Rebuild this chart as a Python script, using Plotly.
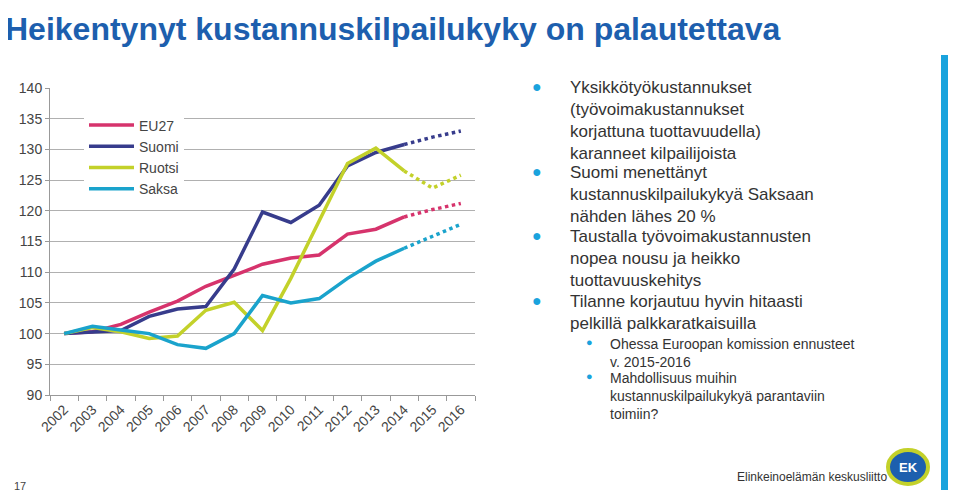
import plotly.graph_objects as go

years = [str(y) for y in range(2002, 2017)]
actual_n = 13  # 2002-2014 measured, 2015-2016 forecast

eu27 = [100, 100.3, 101.5, 103.5, 105.3, 107.7, 109.5, 111.3, 112.3, 112.8, 116.2, 117.0, 119.0, 120.2, 121.2]
suomi = [100, 100.3, 100.5, 102.8, 104.0, 104.4, 110.5, 119.8, 118.1, 120.9, 127.3, 129.5, 130.8, 132.0, 133.0]
ruotsi = [100, 101.0, 100.3, 99.2, 99.6, 103.8, 105.1, 100.5, 109.0, 118.5, 127.7, 130.2, 126.5, 123.7, 125.8]
saksa = [100, 101.2, 100.6, 100.0, 98.2, 97.6, 100.0, 106.2, 105.0, 105.7, 109.0, 111.8, 113.9, 115.9, 117.8]

series = [("EU27", eu27, "#d6336c"), ("Suomi", suomi, "#373c8c"),
          ("Ruotsi", ruotsi, "#c3d12a"), ("Saksa", saksa, "#1aa3cc")]

bullets = [
    "Yksikkötyökustannukset<br>(työvoimakustannukset<br>korjattuna tuottavuudella)<br>karanneet kilpailijoista",
    "Suomi menettänyt<br>kustannuskilpailukykyä Saksaan<br>nähden lähes 20 %",
    "Taustalla työvoimakustannusten<br>nopea nousu ja heikko<br>tuottavuuskehitys",
    "Tilanne korjautuu hyvin hitaasti<br>pelkillä palkkaratkaisuilla",
]
sub_bullets = ["Ohessa Euroopan komission ennusteet<br>v. 2015-2016",
               "Mahdollisuus muihin<br>kustannuskilpailukykyä parantaviin<br>toimiin?"]


def py(yp):
    # screen pixel -> paper y
    return 1 - (yp - 88) / 307


def px(xp):
    return (xp - 50) / 425


fig = go.Figure()
for name, vals, col in series:
    fig.add_trace(go.Scatter(x=years[:actual_n], y=vals[:actual_n], mode="lines", name=name,
                             line=dict(color=col, width=3.5)))
    fig.add_trace(go.Scatter(x=years[actual_n - 1:], y=vals[actual_n - 1:], mode="lines",
                             showlegend=False, line=dict(color=col, width=3.5, dash="dot")))

fig.update_layout(
    width=951, height=487, paper_bgcolor="white", plot_bgcolor="white",
    margin=dict(l=42, r=484, t=80, b=100),
    font=dict(family="Liberation Sans, Arial", color="#333333"),
    legend=dict(x=0.08, y=0.93, bgcolor="white", font=dict(size=14, color="#444"),
                tracegroupgap=0, itemwidth=45),
    xaxis=dict(type="category", range=[-0.5, 14.5], tickangle=-45, ticks="outside",
               tickson="boundaries", ticklen=5, tickcolor="#999", showline=True, linecolor="#999",
               showgrid=False, tickfont=dict(size=14, color="#444")),
    yaxis=dict(range=[90, 140], dtick=5, showgrid=True, gridcolor="#b0b0b0",
               showline=True, linecolor="#999", ticks="outside", ticklen=4, tickcolor="#999",
               tickfont=dict(size=14, color="#444"), zeroline=False),
)

fig.add_annotation(text="<b>Heikentynyt kustannuskilpailukyky on palautettava</b>",
                   xref="paper", yref="paper", x=px(3), y=py(9), xanchor="left", yanchor="top",
                   showarrow=False, font=dict(size=32, color="#1d5fae", family="Liberation Sans"))

for txt, yp in zip(bullets, [76, 161, 225, 290]):
    fig.add_annotation(text="●", xref="paper", yref="paper", x=px(530), y=py(yp),
                       xanchor="left", yanchor="top", showarrow=False,
                       font=dict(size=16, color="#1aa3dd"))
    fig.add_annotation(text=txt, xref="paper", yref="paper", x=px(568), y=py(yp),
                       xanchor="left", yanchor="top", align="left", showarrow=False,
                       font=dict(size=17, color="#333333"))

for txt, yp in zip(sub_bullets, [334, 368]):
    fig.add_annotation(text="●", xref="paper", yref="paper", x=px(584), y=py(yp),
                       xanchor="left", yanchor="top", showarrow=False,
                       font=dict(size=11, color="#1aa3dd"))
    fig.add_annotation(text=txt, xref="paper", yref="paper", x=px(608), y=py(yp),
                       xanchor="left", yanchor="top", align="left", showarrow=False,
                       font=dict(size=14, color="#333333"))

fig.add_annotation(text="17", xref="paper", yref="paper", x=px(12), y=py(478), showarrow=False,
                   xanchor="left", yanchor="top", font=dict(size=11, color="#444"))
fig.add_annotation(text="Elinkeinoelämän keskusliitto", xref="paper", yref="paper", x=px(735), y=py(468),
                   showarrow=False, xanchor="left", yanchor="top", font=dict(size=12, color="#333"))
fig.add_shape(type="circle", xref="paper", yref="paper", x0=px(888), x1=px(928), y0=py(484), y1=py(450),
              fillcolor="#1d5fae", line=dict(color="#c3d12a", width=4))
fig.add_annotation(text="<b>EK</b>", xref="paper", yref="paper", x=px(908), y=py(467), showarrow=False,
                   xanchor="center", yanchor="middle", font=dict(size=13, color="white"))
fig.add_shape(type="rect", xref="paper", yref="paper", x0=px(941), x1=px(948), y0=py(490), y1=py(55),
              fillcolor="#1aa3dd", line_width=0)

fig.write_html("out.html")
